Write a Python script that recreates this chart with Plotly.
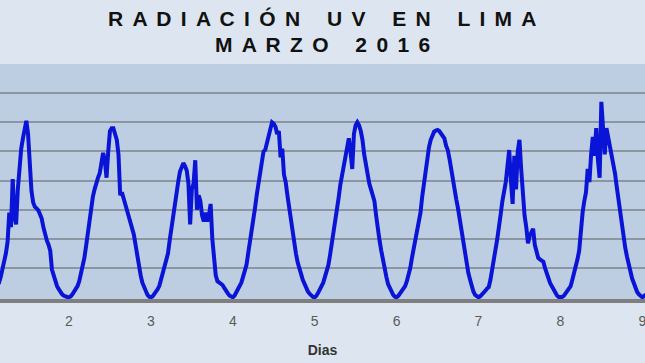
import plotly.graph_objects as go

# UV index readings, one list per day, every 30 minutes (00:00 .. 23:30)
dia1 = [0, 0.02, 0.06, 0.12, 0.22, 0.3, 0.4, 0.5, 0.7, 0.95, 1.2, 1.5, 1.9, 2.9, 2.4, 4.05,
        2.8, 2.5, 3.7, 4.6, 5.1, 5.45, 5.7, 6.05, 5.6, 4.4, 3.65, 3.25, 3.1, 3.05, 2.98, 2.85,
        2.7, 2.4, 2.12, 1.95, 1.8, 1.6, 0.95, 0.75, 0.5, 0.38, 0.28, 0.18, 0.1, 0.05, 0.02, 0.01]
dia2 = [0, 0.03, 0.1, 0.18, 0.28, 0.38, 0.55, 0.8, 1.0, 1.35, 1.75, 2.2, 2.7, 3.1, 3.45, 3.7,
        3.95, 4.1, 4.25, 4.6, 4.95, 4.7, 4.1, 5.0, 5.7, 5.8, 5.8, 5.6, 5.4, 4.9, 3.5, 3.6,
        3.4, 3.2, 3.0, 2.85, 2.6, 2.45, 2.15, 1.8, 1.4, 1.05, 0.75, 0.5, 0.35, 0.2, 0.08, 0.02]
dia3 = [0, 0.03, 0.1, 0.18, 0.28, 0.4, 0.6, 0.82, 1.05, 1.3, 1.5, 1.95, 2.4, 2.85, 3.2, 3.55,
        3.95, 4.3, 4.5, 4.6, 4.5, 4.35, 3.9, 2.5, 3.7, 3.9, 4.7, 3.0, 3.5, 3.3, 2.8, 2.6,
        2.9, 2.6, 2.8, 3.2, 2.0, 1.2, 0.75, 0.55, 0.5, 0.45, 0.42, 0.32, 0.2, 0.14, 0.06, 0.01]
dia4 = [0, 0.05, 0.15, 0.25, 0.35, 0.5, 0.7, 0.9, 1.1, 1.5, 1.85, 2.25, 2.6, 3.05, 3.5, 3.9,
        4.3, 4.65, 5.0, 5.05, 5.3, 5.6, 5.9, 6.0, 5.95, 5.85, 5.6, 5.7, 4.8, 5.1, 4.2, 3.95,
        3.5, 3.05, 2.65, 2.15, 1.85, 1.5, 1.2, 0.95, 0.8, 0.6, 0.45, 0.3, 0.2, 0.12, 0.05, 0.01]
dia5 = [0, 0.05, 0.15, 0.25, 0.35, 0.5, 0.7, 0.9, 1.1, 1.45, 1.8, 2.25, 2.6, 3.0, 3.4, 3.85,
        4.2, 4.55, 4.9, 5.2, 5.45, 5.0, 4.4, 5.6, 5.9, 6.0, 5.9, 5.7, 5.4, 4.9, 4.5, 4.1,
        3.9, 3.7, 3.5, 3.3, 2.8, 2.3, 1.95, 1.6, 1.25, 0.95, 0.7, 0.45, 0.3, 0.18, 0.08, 0.02]
dia6 = [0, 0.05, 0.12, 0.2, 0.28, 0.38, 0.55, 0.75, 1.0, 1.35, 1.65, 2.0, 2.35, 2.6, 2.9, 3.45,
        3.9, 4.35, 4.8, 5.15, 5.4, 5.6, 5.68, 5.72, 5.74, 5.7, 5.62, 5.52, 5.45, 5.2, 5.05, 4.75,
        4.35, 4.0, 3.7, 3.35, 3.05, 2.65, 2.3, 1.95, 1.5, 1.15, 0.85, 0.62, 0.38, 0.2, 0.08, 0.02]
dia7 = [0, 0.03, 0.08, 0.15, 0.22, 0.3, 0.35, 0.6, 0.9, 1.3, 1.65, 2.0, 2.35, 2.85, 3.3, 3.6,
        3.95, 4.5, 5.05, 4.0, 3.2, 4.85, 3.7, 5.0, 5.4, 4.4, 3.4, 2.8, 2.4, 1.85, 2.1, 2.25,
        2.35, 1.8, 1.5, 1.35, 1.3, 1.25, 1.22, 1.0, 0.8, 0.6, 0.48, 0.38, 0.25, 0.15, 0.06, 0.01]
dia8 = [0, 0.01, 0.05, 0.12, 0.2, 0.3, 0.38, 0.6, 0.8, 1.05, 1.3, 1.6, 2.35, 2.9, 3.3, 3.6,
        4.4, 3.95, 4.9, 5.5, 4.85, 5.8, 4.7, 4.1, 6.7, 5.8, 4.9, 5.8, 5.5, 5.3, 5.0, 4.6,
        4.25, 3.8, 3.35, 2.9, 2.5, 2.1, 1.7, 1.4, 1.2, 0.9, 0.65, 0.5, 0.3, 0.18, 0.1, 0.04]
dia9 = [0, 0.03, 0.1]

dias = [1, 2, 3, 4, 5, 6, 7, 8, 9]
lecturas_por_dia = 48
tick_dias = [2, 3, 4, 5, 6, 7, 8, 9]
titulo_1 = "RADIACIÓN UV EN LIMA"
titulo_2 = "MARZO 2016"

serie = [dia1, dia2, dia3, dia4, dia5, dia6, dia7, dia8, dia9]
x, y = [], []
for d, vals in zip(dias, serie):
    for i, v in enumerate(vals):
        x.append(d + i / lecturas_por_dia)
        y.append(v)

fig = go.Figure(go.Scatter(x=x, y=y, mode="lines",
                           line=dict(color="#0a14d6", width=4), hoverinfo="skip"))

entre_letras = " \u2006"
entre_palabras = "\u2002\u2002 "
def espaciar(texto):
    return entre_palabras.join(entre_letras.join(p) for p in texto.split(" "))

fuente = "Liberation Sans, Arial, sans-serif"
fig.add_annotation(text="<b>" + espaciar(titulo_1) + "</b>", xref="paper", yref="paper",
                   x=0.5, y=1.1915, xanchor="center", yanchor="middle", showarrow=False,
                   font=dict(family=fuente, size=21, color="#111111"))
fig.add_annotation(text="<b>" + espaciar(titulo_2) + "</b>", xref="paper", yref="paper",
                   x=0.5, y=1.0809, xanchor="center", yanchor="middle", showarrow=False,
                   font=dict(family=fuente, size=21, color="#111111"))

fig.update_layout(
    width=645, height=363,
    margin=dict(l=0, r=0, t=64, b=64),
    paper_bgcolor="#dde6f0",
    plot_bgcolor="#bdcee2",
    showlegend=False,
    xaxis=dict(range=[1.1575, 9.033], tickvals=tick_dias, ticktext=[str(t) for t in tick_dias],
               showgrid=False, zeroline=False, showline=True, linewidth=4, linecolor="#7f7f7f",
               ticks="outside", ticklen=6, tickcolor="rgba(0,0,0,0)", ticklabeloverflow="allow",
               tickfont=dict(family=fuente, size=14, color="#5a5a5a"),
               title=dict(text="<b>Dias</b>", standoff=18,
                          font=dict(family=fuente, size=14, color="#333333"))),
    yaxis=dict(range=[-0.06, 8], tickvals=[1, 2, 3, 4, 5, 6, 7, 8], showticklabels=False,
               showgrid=True, gridcolor="#8c96a2", gridwidth=1.5, zeroline=False, showline=False),
)

fig.write_html("out.html", config={"displayModeBar": False},
               post_script="document.body.style.margin='0px';")
